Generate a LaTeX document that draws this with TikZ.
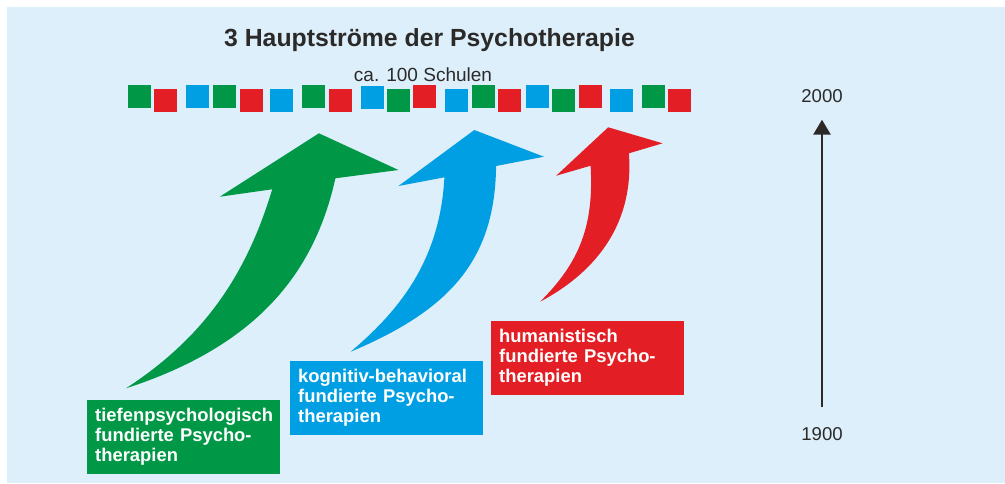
\documentclass[tikz,border=0pt]{standalone}
\usepackage{fontspec}
\setmainfont{Liberation Sans}
\usepackage{tikz}
\usetikzlibrary{arrows.meta}
\definecolor{psyGreen}{RGB}{0,152,70}
\definecolor{psyBlue}{RGB}{0,159,227}
\definecolor{psyRed}{RGB}{227,30,36}
\definecolor{psyBack}{RGB}{221,239,251}
\definecolor{psyText}{RGB}{43,42,41}

\begin{document}
\begin{tikzpicture}[x=1pt,y=-1pt,
    squarenode/.style={rectangle,minimum size=23pt,inner sep=0pt,anchor=north west},
    boxnode/.style={rectangle,anchor=north west,text=white,align=left,inner xsep=8pt,inner ysep=0pt,text width=177pt,minimum height=74pt,font=\bfseries\fontsize{18.4}{20}\selectfont,execute at begin node={\hyphenpenalty10000\relax}},
    yearnode/.style={inner sep=0pt,anchor=base,text=psyText,font=\fontsize{18.6}{20}\selectfont},]
    \useasboundingbox (0,0) rectangle (1005,483);
    \fill[psyBack] (7,7) rectangle (1005,483);
    \node[anchor=base,text=psyText,font=\bfseries\fontsize{24.8}{28}\selectfont] at (429.5,46) (title) {3 Hauptströme der Psychotherapie};
    \node[anchor=base,text=psyText,font=\fontsize{19}{22}\selectfont] at (423,81.5) (schulen) {ca. 100 Schulen};
    \node[squarenode,fill=psyGreen] at (128,85) (schule1) {};
    \node[squarenode,fill=psyRed] at (154,89) (schule2) {};
    \node[squarenode,fill=psyBlue] at (186,85) (schule3) {};
    \node[squarenode,fill=psyGreen] at (213,85) (schule4) {};
    \node[squarenode,fill=psyRed] at (240,89) (schule5) {};
    \node[squarenode,fill=psyBlue] at (270,89) (schule6) {};
    \node[squarenode,fill=psyGreen] at (302,85) (schule7) {};
    \node[squarenode,fill=psyRed] at (329,89) (schule8) {};
    \node[squarenode,fill=psyBlue] at (361,86) (schule9) {};
    \node[squarenode,fill=psyGreen] at (387,89) (schule10) {};
    \node[squarenode,fill=psyRed] at (413,85) (schule11) {};
    \node[squarenode,fill=psyBlue] at (445,89) (schule12) {};
    \node[squarenode,fill=psyGreen] at (472,85) (schule13) {};
    \node[squarenode,fill=psyRed] at (498,89) (schule14) {};
    \node[squarenode,fill=psyBlue] at (526,85) (schule15) {};
    \node[squarenode,fill=psyGreen] at (552,89) (schule16) {};
    \node[squarenode,fill=psyRed] at (579,85) (schule17) {};
    \node[squarenode,fill=psyBlue] at (610,89) (schule18) {};
    \node[squarenode,fill=psyGreen] at (642,85) (schule19) {};
    \node[squarenode,fill=psyRed] at (668,89) (schule20) {};
    \fill[psyGreen] (126,388.3) .. controls (200,340) and (245,280) .. (272.2,189.3) -- (219.8,196.7) -- (318.9,133.3) -- (398.5,170) -- (335.4,178.3) .. controls (315,270) and (260,345) .. (126,388.3) -- cycle;
    \fill[psyBlue] (350.7,351.7) .. controls (400,310) and (440,260) .. (444.4,177.3) -- (398.5,186) -- (474.3,130) -- (543.9,156.7) -- (496.1,166) .. controls (495,260) and (450,310) .. (350.7,351.7) -- cycle;
    \fill[psyRed] (540.1,301.7) .. controls (580,262) and (594,225) .. (590.6,165.7) -- (556.2,175.7) -- (608.2,127.3) -- (662.6,143.3) -- (628.9,153.3) .. controls (634,220) and (600,270) .. (540.1,301.7) -- cycle;
    \node[boxnode,fill=psyGreen] at (87,400) (tiefen) {tiefenpsychologisch\\fundierte Psycho-\\therapien};
    \node[boxnode,fill=psyBlue] at (290,361) (kognitiv) {kognitiv-behavioral\\fundierte Psycho-\\therapien};
    \node[boxnode,fill=psyRed] at (491,321) (human) {humanistisch\\fundierte Psycho-\\therapien};
    \node[yearnode] at (822,102.3) (jahrEnde) {2000};
    \node[yearnode] at (822,440) (jahrStart) {1900};
    \draw[psyText,line width=2.7pt,-{Triangle[length=15pt,width=17pt]},shorten <=20pt,shorten >=17pt] (jahrStart.north) -- (jahrEnde.south);
\end{tikzpicture}
\end{document}
